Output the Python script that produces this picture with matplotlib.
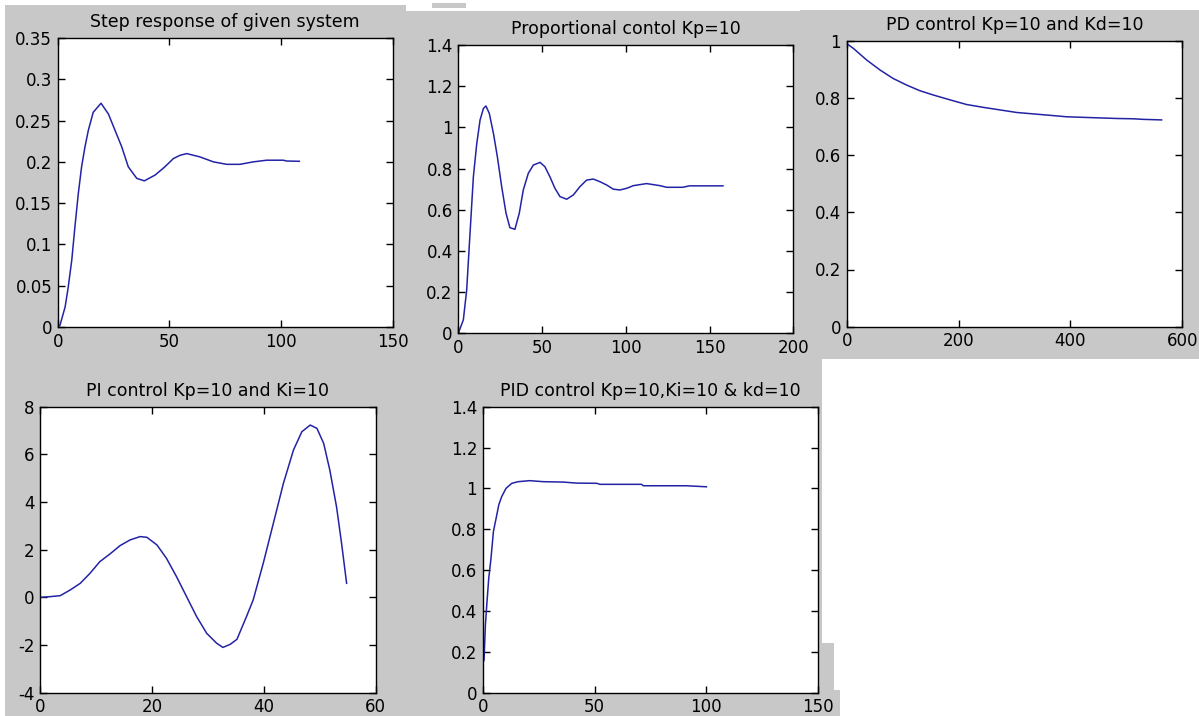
import matplotlib

# Use non-interactive backend
matplotlib.use("Agg")

import matplotlib.pyplot as plt
from matplotlib.patches import Rectangle

W, H = 1199, 716

# ------------------ data ------------------

# Step response of given system
step_t = [0, 1.0, 3.3, 4.7, 6.3, 7.7, 9.2, 10.7, 12.2, 13.7, 15.9, 19.4,
          22.7, 25.7, 28.7, 31.6, 35.4, 38.8, 43.6, 48, 51.8, 54.8, 57.8,
          63.7, 69.7, 75.7, 81.6, 87.6, 93.6, 101, 102.5, 108.2]
step_y = [0, 0.002, 0.024, 0.048, 0.081, 0.121, 0.161, 0.194, 0.218, 0.238,
          0.260, 0.271, 0.258, 0.238, 0.218, 0.194, 0.180, 0.177, 0.184,
          0.194, 0.204, 0.208, 0.210, 0.206, 0.200, 0.197, 0.197, 0.200,
          0.202, 0.202, 0.201, 0.2007]

# Proportional control Kp=10
p_t = [0, 3, 5, 7, 9, 11, 13, 15, 16.5, 18.5, 21, 23.3, 25.9, 28.5, 30.8,
       33.8, 36.4, 38.8, 41.8, 44.8, 48.8, 51.7, 54.7, 57.7, 60.7, 64.7,
       68.7, 72.6, 76.6, 80.6, 84.6, 88.6, 92.5, 96.5, 100.5, 104.5, 112.4,
       120.4, 124.4, 134, 138, 158]
p_y = [0, 0.065, 0.21, 0.486, 0.76, 0.92, 1.036, 1.092, 1.104, 1.068, 0.97,
       0.858, 0.712, 0.583, 0.513, 0.505, 0.583, 0.696, 0.777, 0.817, 0.83,
       0.809, 0.76, 0.704, 0.664, 0.651, 0.672, 0.712, 0.744, 0.749, 0.736,
       0.72, 0.70, 0.696, 0.704, 0.717, 0.727, 0.717, 0.709, 0.709, 0.716,
       0.716]

# PD control Kp=10 and Kd=10
pd_t = [0, 0, 12, 36, 60, 83, 107, 131, 155, 185, 214, 244, 274, 304, 334,
        364, 393, 423, 453, 483, 512, 530, 563]
pd_y = [0, 0.99, 0.973, 0.932, 0.897, 0.868, 0.845, 0.825, 0.81, 0.793,
        0.777, 0.767, 0.758, 0.749, 0.744, 0.739, 0.734, 0.732, 0.73, 0.728,
        0.727, 0.725, 0.723]

# PI control Kp=10 and Ki=10
pi_t = [0, 1.8, 3.6, 5.4, 7.2, 8.9, 10.7, 12.5, 14.3, 16.1, 17.9, 19.1, 20.9,
        22.6, 24.4, 26.2, 28, 29.8, 31.6, 32.7, 34, 35.2, 36.9, 38.1, 39.9,
        41.7, 43.5, 45.3, 46.8, 48.3, 49.5, 50.7, 51.8, 53, 53.9, 54.8]
pi_y = [0, 0.03, 0.07, 0.31, 0.59, 1.0, 1.5, 1.82, 2.17, 2.41, 2.55, 2.52,
        2.2, 1.64, 0.87, 0.03, -0.81, -1.51, -1.93, -2.1, -1.97, -1.76, -0.81,
        -0.11, 1.43, 3.1, 4.78, 6.18, 6.95, 7.23, 7.09, 6.46, 5.34, 3.8,
        2.27, 0.59]

# PID control Kp=10, Ki=10 & kd=10
pid_t = [0, 0, 0.6, 1.2, 1.8, 2.7, 3.7, 4.8, 6.0, 7.2, 8.5, 10.4, 13, 15.9,
         21, 27, 36, 42, 51, 52.4, 61, 71, 71.8, 91, 100]
pid_y = [0, 0.144, 0.16, 0.33, 0.427, 0.56, 0.657, 0.79, 0.854, 0.92, 0.96,
         1.0, 1.025, 1.033, 1.038, 1.033, 1.031, 1.026, 1.025, 1.02, 1.02,
         1.02, 1.013, 1.013, 1.008]

# ------------------ panel setup ------------------

panels = [
    # title, t, y, xticks, yticks, yticklabels, axes box (left, top, right, bottom px)
    ("Step response of given system", step_t, step_y,
     [0, 50, 100, 150], [0, 0.05, 0.1, 0.15, 0.2, 0.25, 0.3, 0.35],
     ["0", "0.05", "0.1", "0.15", "0.2", "0.25", "0.3", "0.35"],
     (57.7, 38, 392.7, 327)),
    ("Proportional contol Kp=10", p_t, p_y,
     [0, 50, 100, 150, 200], [0, 0.2, 0.4, 0.6, 0.8, 1, 1.2, 1.4],
     ["0", "0.2", "0.4", "0.6", "0.8", "1", "1.2", "1.4"],
     (458.3, 45, 793.3, 333.3)),
    ("PD control Kp=10 and Kd=10", pd_t, pd_y,
     [0, 200, 400, 600], [0, 0.2, 0.4, 0.6, 0.8, 1],
     ["0", "0.2", "0.4", "0.6", "0.8", "1"],
     (846.7, 40.7, 1182.3, 326.7)),
    ("PI control Kp=10 and Ki=10", pi_t, pi_y,
     [0, 20, 40, 60], [-4, -2, 0, 2, 4, 6, 8],
     ["-4", "-2", "0", "2", "4", "6", "8"],
     (40, 406.7, 375.7, 692.7)),
    ("PID control Kp=10,Ki=10 & kd=10", pid_t, pid_y,
     [0, 50, 100, 150], [0, 0.2, 0.4, 0.6, 0.8, 1, 1.2, 1.4],
     ["0", "0.2", "0.4", "0.6", "0.8", "1", "1.2", "1.4"],
     (482.7, 406.7, 818.3, 692.7)),
]

GRAY = "#c8c8c8"
LINE = "#2323a6"

plt.rcParams["font.family"] = ["DejaVu Sans"]

fig = plt.figure(figsize=(W / 100, H / 100), dpi=100)
fig.patch.set_facecolor("white")


def px_rect(x0, y0, x1, y1, color=GRAY):
    # rectangle given in top-left pixel coords, drawn behind the axes
    fig.patches.append(Rectangle(
        (x0 / W, 1 - y1 / H), (x1 - x0) / W, (y1 - y0) / H,
        transform=fig.transFigure, facecolor=color, edgecolor="none",
        zorder=-10))


# gray window backgrounds
px_rect(5, 5, 406, 716)
px_rect(406, 11, 822, 716)
px_rect(800, 10, 1199, 359)
px_rect(820, 643, 834, 716)
px_rect(820, 690, 840, 716)
px_rect(432, 3, 466, 8)

for title, t, y, xt, yt, ytl, box in panels:
    l, tp, r, b = box
    ax = fig.add_axes([l / W, 1 - b / H, (r - l) / W, (b - tp) / H])
    ax.set_facecolor("white")
    ax.plot(t, y, color=LINE, linewidth=1.1)
    ax.set_xlim(xt[0], xt[-1])
    ax.set_ylim(yt[0], yt[-1])
    ax.set_xticks(xt)
    ax.set_xticklabels([str(v) for v in xt])
    ax.set_yticks(yt)
    ax.set_yticklabels(ytl)
    ax.tick_params(direction="in", length=5, width=1, top=True, right=True,
                   labelsize=12, pad=4, colors="black")
    for s in ax.spines.values():
        s.set_linewidth(1)
        s.set_color("black")
    ax.set_title(title, fontsize=12.5, pad=8)

fig.savefig("out.png", dpi=100, facecolor=fig.get_facecolor())
